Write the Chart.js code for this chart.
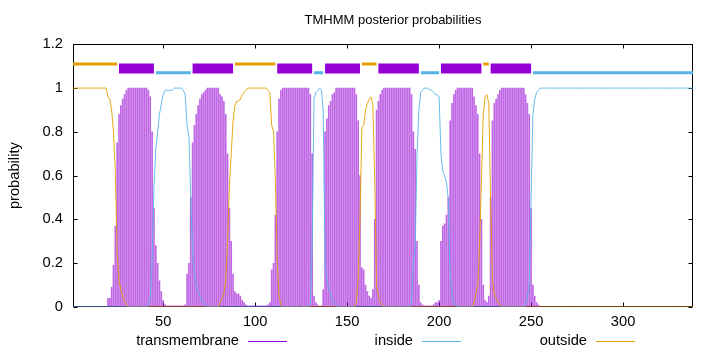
<!DOCTYPE html>
<html>
<head>
<meta charset="utf-8">
<script src="https://cdn.jsdelivr.net/npm/chart.js@4.4.1/dist/chart.umd.min.js"></script>
<style>
  body { margin: 0; background: #fff; }
  canvas { display: block; }
</style>
</head>
<body>
<canvas id="tmhmm" width="720" height="352"></canvas>
<script>
// posterior probabilities per residue (1..338)
const tmProb = [
  0, 0, 0, 0, 0, 0, 0, 0, 0, 0,                                   // 1
  0, 0, 0, 0, 0, 0, 0, 0, 0, 0.04,                                // 11
  0.04, 0.09, 0.19, 0.37, 0.75, 0.88, 0.92, 0.95, 0.97, 0.99,     // 21
  1, 1, 1, 1, 1, 1, 1, 1, 1, 1,                                   // 31
  1, 0.99, 0.96, 0.8, 0.45, 0.28, 0.2, 0.12, 0.07, 0.03,          // 41
  0.01, 0.005, 0.005, 0.005, 0.005, 0.005, 0.005, 0.005, 0.005, 0.005, // 51
  0.005, 0.01, 0.15, 0.2, 0.5, 0.75, 0.83, 0.88, 0.92, 0.95,      // 61
  0.97, 0.98, 0.99, 1, 1, 1, 1, 1, 1, 1,                          // 71
  0.97, 0.96, 0.94, 0.88, 0.7, 0.45, 0.3, 0.15, 0.07, 0.06,       // 81
  0.06, 0.05, 0.03, 0.02, 0.01, 0.005, 0.005, 0.005, 0.005, 0.005, // 91
  0.005, 0.005, 0.005, 0.005, 0.005, 0.005, 0.01, 0.02, 0.17, 0.2, // 101
  0.42, 0.8, 0.95, 0.99, 1, 1, 1, 1, 1, 1,                        // 111
  1, 1, 1, 1, 1, 1, 1, 1, 1, 0.97,                                // 121
  0.7, 0.05, 0.02, 0.01, 0, 0.005, 0.08, 0.8, 0.86, 0.92,         // 131
  0.94, 0.97, 0.98, 1, 1, 1, 1, 1, 1, 1,                          // 141
  1, 1, 1, 1, 0.97, 0.85, 0.6, 0.18, 0.17, 0.1,                   // 151
  0.07, 0.05, 0.04, 0.08, 0.4, 0.9, 0.94, 0.97, 0.99, 1,          // 161
  1, 1, 1, 1, 1, 1, 1, 1, 1, 1,                                   // 171
  1, 1, 1, 1, 0.97, 0.8, 0.72, 0.3, 0.1, 0.02,                    // 181
  0.01, 0.005, 0.005, 0.005, 0.005, 0.005, 0.01, 0.02, 0.02, 0.03, // 191
  0.3, 0.37, 0.38, 0.42, 0.5, 0.85, 0.93, 0.97, 0.99, 1,          // 201
  1, 1, 1, 1, 1, 1, 1, 1, 0.96, 0.92,                             // 211
  0.88, 0.7, 0.4, 0.1, 0.03, 0.02, 0.05, 0.5, 0.85, 0.93,         // 221
  0.95, 0.97, 0.99, 1, 1, 1, 1, 1, 1, 1,                          // 231
  1, 1, 1, 1, 1, 1, 0.97, 0.93, 0.88, 0.45,                       // 241
  0.1, 0.05, 0.02, 0.01, 0, 0, 0, 0, 0, 0,                        // 251
  0, 0, 0, 0, 0, 0, 0, 0, 0, 0,                                   // 261
  0, 0, 0, 0, 0, 0, 0, 0, 0, 0,                                   // 271
  0, 0, 0, 0, 0, 0, 0, 0, 0, 0,                                   // 281
  0, 0, 0, 0, 0, 0, 0, 0, 0, 0,                                   // 291
  0, 0, 0, 0, 0, 0, 0, 0, 0, 0,                                   // 301
  0, 0, 0, 0, 0, 0, 0, 0, 0, 0,                                   // 311
  0, 0, 0, 0, 0, 0, 0, 0, 0, 0,                                   // 321
  0, 0, 0, 0, 0, 0, 0, 0                                          // 331
];

const insideProb = [
  0, 0, 0, 0, 0, 0, 0, 0, 0, 0,                                   // 1
  0, 0, 0, 0, 0, 0, 0, 0, 0, 0,                                   // 11
  0, 0, 0, 0, 0, 0, 0, 0, 0, 0,                                   // 21
  0, 0, 0, 0, 0, 0, 0, 0, 0, 0,                                   // 31
  0, 0.01, 0.04, 0.2, 0.55, 0.72, 0.8, 0.88, 0.93, 0.97,          // 41
  0.99, 0.99, 0.99, 0.99, 0.99, 1, 1, 1, 1, 1,                    // 51
  0.99, 0.97, 0.83, 0.78, 0.5, 0.25, 0.15, 0.09, 0.07, 0.05,      // 61
  0.03, 0.02, 0.01, 0, 0, 0, 0, 0, 0, 0,                          // 71
  0, 0, 0, 0, 0, 0, 0, 0, 0, 0,                                   // 81
  0, 0, 0, 0, 0, 0, 0, 0, 0, 0,                                   // 91
  0, 0, 0, 0, 0, 0, 0, 0, 0, 0,                                   // 101
  0, 0, 0, 0, 0, 0, 0, 0, 0, 0,                                   // 111
  0, 0, 0, 0, 0, 0, 0, 0, 0, 0.02,                                // 121
  0.28, 0.95, 0.98, 0.99, 1, 0.99, 0.9, 0.2, 0.13, 0.08,          // 131
  0.06, 0.03, 0.02, 0.01, 0, 0, 0, 0, 0, 0,                       // 141
  0, 0, 0, 0, 0, 0, 0, 0, 0, 0,                                   // 151
  0, 0, 0, 0, 0, 0, 0, 0, 0, 0,                                   // 161
  0, 0, 0, 0, 0, 0, 0, 0, 0, 0,                                   // 171
  0, 0, 0, 0, 0.02, 0.2, 0.27, 0.7, 0.9, 0.98,                    // 181
  0.99, 1, 1, 1, 0.99, 0.99, 0.98, 0.97, 0.97, 0.96,              // 191
  0.7, 0.62, 0.6, 0.57, 0.49, 0.15, 0.06, 0.02, 0.01, 0,          // 201
  0, 0, 0, 0, 0, 0, 0, 0, 0, 0,                                   // 211
  0, 0, 0, 0, 0, 0, 0, 0, 0, 0,                                   // 221
  0, 0, 0, 0, 0, 0, 0, 0, 0, 0,                                   // 231
  0, 0, 0, 0, 0, 0, 0.01, 0.05, 0.1, 0.5,                         // 241
  0.88, 0.95, 0.98, 0.99, 1, 1, 1, 1, 1, 1,                       // 251
  1, 1, 1, 1, 1, 1, 1, 1, 1, 1,                                   // 261
  1, 1, 1, 1, 1, 1, 1, 1, 1, 1,                                   // 271
  1, 1, 1, 1, 1, 1, 1, 1, 1, 1,                                   // 281
  1, 1, 1, 1, 1, 1, 1, 1, 1, 1,                                   // 291
  1, 1, 1, 1, 1, 1, 1, 1, 1, 1,                                   // 301
  1, 1, 1, 1, 1, 1, 1, 1, 1, 1,                                   // 311
  1, 1, 1, 1, 1, 1, 1, 1, 1, 1,                                   // 321
  1, 1, 1, 1, 1, 1, 1, 1                                          // 331
];

const outsideProb = [
  1, 1, 1, 1, 1, 1, 1, 1, 1, 1,                                   // 1
  1, 1, 1, 1, 1, 1, 1, 1, 1, 0.96,                                // 11
  0.95, 0.9, 0.8, 0.62, 0.25, 0.12, 0.08, 0.05, 0.03, 0.01,       // 21
  0, 0, 0, 0, 0, 0, 0, 0, 0, 0,                                   // 31
  0, 0, 0, 0, 0, 0, 0, 0, 0, 0,                                   // 41
  0, 0, 0, 0, 0, 0, 0, 0, 0, 0,                                   // 51
  0, 0, 0, 0, 0, 0, 0, 0, 0, 0,                                   // 61
  0, 0, 0, 0, 0, 0, 0, 0, 0, 0,                                   // 71
  0.02, 0.04, 0.06, 0.12, 0.3, 0.55, 0.7, 0.85, 0.92, 0.94,       // 81
  0.94, 0.95, 0.97, 0.98, 0.99, 1, 1, 1, 1, 1,                    // 91
  1, 1, 1, 1, 1, 1, 0.99, 0.98, 0.83, 0.8,                        // 101
  0.58, 0.2, 0.05, 0.01, 0, 0, 0, 0, 0, 0,                        // 111
  0, 0, 0, 0, 0, 0, 0, 0, 0, 0,                                   // 121
  0, 0, 0, 0, 0, 0, 0, 0, 0, 0,                                   // 131
  0, 0, 0, 0, 0, 0, 0, 0, 0, 0,                                   // 141
  0, 0, 0, 0, 0.02, 0.13, 0.4, 0.82, 0.83, 0.9,                   // 151
  0.93, 0.95, 0.96, 0.92, 0.58, 0.1, 0.05, 0.02, 0.01, 0,         // 161
  0, 0, 0, 0, 0, 0, 0, 0, 0, 0,                                   // 171
  0, 0, 0, 0, 0, 0, 0, 0, 0, 0,                                   // 181
  0, 0, 0, 0, 0, 0, 0, 0, 0, 0,                                   // 191
  0, 0, 0, 0, 0, 0, 0, 0, 0, 0,                                   // 201
  0, 0, 0, 0, 0, 0, 0, 0, 0.02, 0.06,                             // 211
  0.1, 0.28, 0.58, 0.88, 0.96, 0.97, 0.93, 0.48, 0.13, 0.06,      // 221
  0.04, 0.02, 0.01, 0, 0, 0, 0, 0, 0, 0,                          // 231
  0, 0, 0, 0, 0, 0, 0, 0, 0, 0,                                   // 241
  0, 0, 0, 0, 0, 0, 0, 0, 0, 0,                                   // 251
  0, 0, 0, 0, 0, 0, 0, 0, 0, 0,                                   // 261
  0, 0, 0, 0, 0, 0, 0, 0, 0, 0,                                   // 271
  0, 0, 0, 0, 0, 0, 0, 0, 0, 0,                                   // 281
  0, 0, 0, 0, 0, 0, 0, 0, 0, 0,                                   // 291
  0, 0, 0, 0, 0, 0, 0, 0, 0, 0,                                   // 301
  0, 0, 0, 0, 0, 0, 0, 0, 0, 0,                                   // 311
  0, 0, 0, 0, 0, 0, 0, 0, 0, 0,                                   // 321
  0, 0, 0, 0, 0, 0, 0, 0                                          // 331
];

// predicted topology (start, end residue)
const outsideSegs = [[1, 25], [89, 111], [158, 166], [224, 227]];
const tmSegs = [[26, 45], [66, 88], [112, 131], [138, 157], [167, 189], [201, 223], [228, 250]];
const insideSegs = [[46, 65], [132, 137], [190, 200], [251, 338]];

const seqLen = 338;
const xTicks = [50, 100, 150, 200, 250, 300];
const yTicks = [0, 0.2, 0.4, 0.6, 0.8, 1, 1.2];
const yTickLabels = ['0', '0.2', '0.4', '0.6', '0.8', '1', '1.2'];
const chartTitle = 'TMHMM posterior probabilities';

const FONT = "'Liberation Sans', Arial, sans-serif";
const PURPLE = '#9400d3';
const BLUE = '#56b4e9';
const ORANGE = '#e69f00';

const toPoints = arr => arr.map((v, i) => ({ x: i + 1, y: v }));
const segPoints = (segs, level) => {
  const pts = [];
  segs.forEach(([a, b]) => {
    pts.push({ x: a, y: level }, { x: b, y: level }, { x: b + 0.01, y: null });
  });
  return pts;
};

// frame + inward ticks (gnuplot style), drawn under the data
const framePlugin = {
  id: 'frame',
  beforeDatasetsDraw(chart) {
    const { ctx, chartArea: a, scales: { x, y } } = chart;
    ctx.save();
    ctx.strokeStyle = '#000';
    ctx.lineWidth = 1;
    const L = Math.round(a.left) + 0.5, R = Math.round(a.right) - 0.5;
    const T = Math.round(a.top) + 0.5, B = Math.round(a.bottom) - 0.5;
    ctx.strokeRect(L, T, R - L, B - T);
    ctx.beginPath();
    x.ticks.forEach(t => {
      const px = Math.round(x.getPixelForValue(t.value)) + 0.5;
      ctx.moveTo(px, B); ctx.lineTo(px, B - 4);
      ctx.moveTo(px, T); ctx.lineTo(px, T + 4);
    });
    y.ticks.forEach(t => {
      const py = Math.round(y.getPixelForValue(t.value)) + 0.5;
      ctx.moveTo(L, py); ctx.lineTo(L + 4, py);
      ctx.moveTo(R, py); ctx.lineTo(R - 4, py);
    });
    ctx.stroke();
    ctx.restore();
  },
  afterDraw(chart) {
    const { ctx } = chart;
    ctx.save();
    ctx.fillStyle = '#000';
    ctx.textBaseline = 'middle';
    // title
    ctx.font = '13px ' + FONT;
    ctx.textAlign = 'center';
    ctx.fillText(chartTitle, 393, 20);
    // key below the plot: text, then line sample
    const slots = [
      { label: 'transmembrane', right: 239, from: 248, to: 287 },
      { label: 'inside', right: 413, from: 422, to: 461 },
      { label: 'outside', right: 587, from: 596, to: 635 }
    ];
    ctx.font = '14.7px ' + FONT;
    ctx.textAlign = 'right';
    slots.forEach(s => {
      const ds = chart.data.datasets.find(d => d.label === s.label);
      ctx.fillStyle = '#000';
      ctx.fillText(s.label, s.right, 341);
      ctx.strokeStyle = ds.keyColor;
      ctx.lineWidth = 1;
      ctx.beginPath();
      ctx.moveTo(s.from, 341.5);
      ctx.lineTo(s.to, 341.5);
      ctx.stroke();
    });
    ctx.restore();
  }
};

new Chart(document.getElementById('tmhmm'), {
  type: 'line',
  data: {
    datasets: [
      { label: 'outside-bar', data: segPoints(outsideSegs, 1.11), borderColor: ORANGE, borderWidth: 3,
        borderCapStyle: 'butt', pointRadius: 0, spanGaps: false, order: 0 },
      { label: 'inside-bar', data: segPoints(insideSegs, 1.07), borderColor: BLUE, borderWidth: 3,
        borderCapStyle: 'butt', pointRadius: 0, spanGaps: false, order: 0 },
      { label: 'tm-bar', data: segPoints(tmSegs, 1.09), borderColor: PURPLE, borderWidth: 10,
        borderCapStyle: 'butt', pointRadius: 0, spanGaps: false, order: 0 },
      { label: 'inside', data: toPoints(insideProb), borderColor: BLUE, keyColor: BLUE,
        borderWidth: 0.9, pointRadius: 0, tension: 0, order: 1 },
      { label: 'outside', data: toPoints(outsideProb), borderColor: ORANGE, keyColor: ORANGE,
        borderWidth: 0.9, pointRadius: 0, tension: 0, order: 1 },
      { type: 'bar', label: 'transmembrane', data: toPoints(tmProb), backgroundColor: 'rgba(148,0,211,0.6)',
        keyColor: PURPLE, barThickness: 1, grouped: false, order: 5 }
    ]
  },
  options: {
    responsive: false,
    devicePixelRatio: 1,
    animation: false,
    layout: { padding: { left: 0, right: 27, top: 44.3, bottom: 0 } },
    plugins: {
      legend: { display: false },
      tooltip: { enabled: false },
      title: { display: false }
    },
    scales: {
      x: {
        type: 'linear',
        min: 1,
        max: seqLen,
        offset: false,
        grid: { display: false, drawTicks: false },
        border: { display: false },
        afterBuildTicks: s => { s.ticks = xTicks.map(v => ({ value: v })); },
        afterFit: s => { s.height = 45; },
        ticks: { color: '#000', padding: 6, maxRotation: 0, font: { family: FONT, size: 14.7 } }
      },
      y: {
        min: 0,
        max: 1.2,
        grid: { display: false, drawTicks: false },
        border: { display: false },
        afterBuildTicks: s => { s.ticks = yTicks.map(v => ({ value: v })); },
        afterFit: s => { s.width = 73; },
        ticks: {
          color: '#000', padding: 10, font: { family: FONT, size: 14.7 },
          callback: (v, i) => yTickLabels[i]
        },
        title: {
          display: true, text: 'probability', color: '#000',
          font: { family: FONT, size: 14.7 }, padding: { top: 6, bottom: 0 }
        }
      }
    }
  },
  plugins: [framePlugin]
});
</script>
</body>
</html>
